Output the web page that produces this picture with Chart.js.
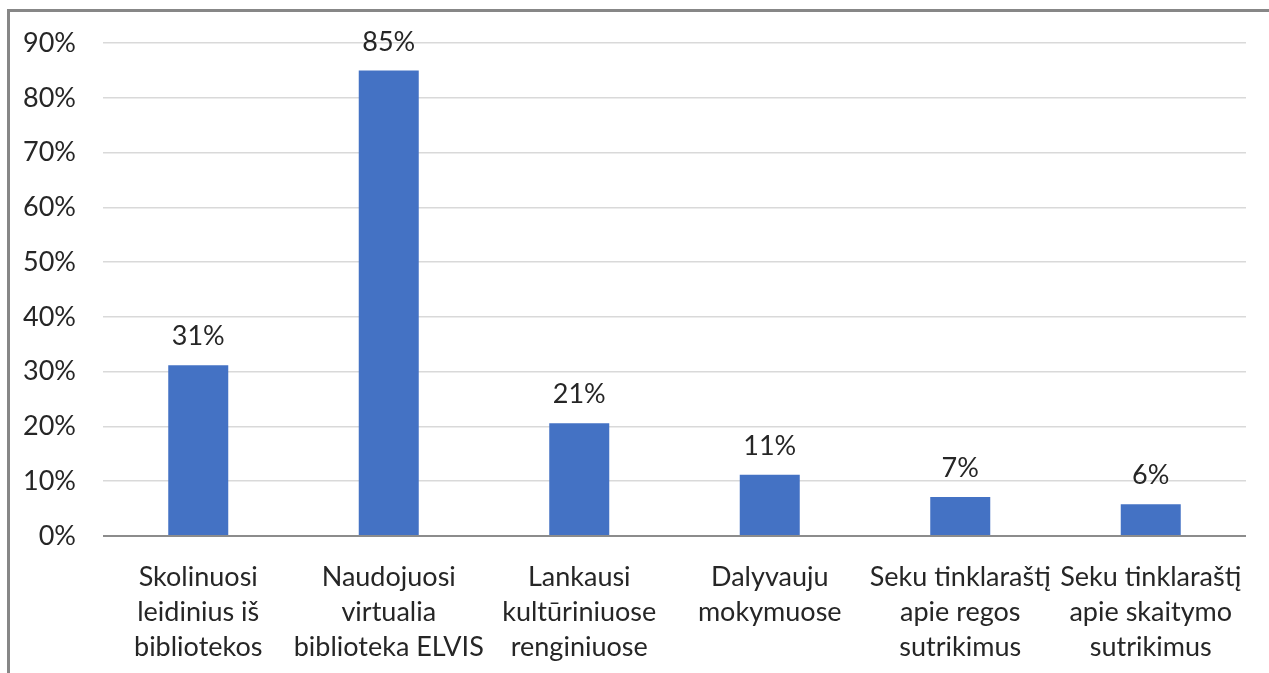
<!DOCTYPE html>
<html>
<head>
<meta charset="utf-8">
<script src="https://cdn.jsdelivr.net/npm/chart.js@4"></script>
<style>
  body { margin: 0; background: #fff; overflow: hidden; }
  #frame {
    position: absolute; left: 7px; top: 9px; width: 1400px; height: 800px;
    border-left: 3px solid #878787; border-top: 3px solid #878787;
  }
  #chart { position: absolute; left: 0; top: 0; }
</style>
</head>
<body>
<div id="frame"></div>
<canvas id="chart" width="1269" height="673"></canvas>
<script>
const categories = [
  ["Skolinuosi", "leidinius iš", "bibliotekos"],
  ["Naudojuosi", "virtualia", "biblioteka ELVIS"],
  ["Lankausi", "kultūriniuose", "renginiuose"],
  ["Dalyvauju", "mokymuose"],
  ["Seku tinklaraštį", "apie regos", "sutrikimus"],
  ["Seku tinklaraštį", "apie skaitymo", "sutrikimus"]
];
const values = [31.2, 85, 20.6, 11.2, 7.1, 5.8];
const yTicks = [0, 10, 20, 30, 40, 50, 60, 70, 80, 90];

const textColor = "#262626";
const fontFamily = "Lato, 'Liberation Sans', sans-serif";

const barLabels = {
  id: "barLabels",
  afterDatasetsDraw(chart) {
    const c = chart.ctx;
    const meta = chart.getDatasetMeta(0);
    c.save();
    c.font = "27px " + fontFamily;
    c.fillStyle = textColor;
    c.textAlign = "center";
    c.textBaseline = "alphabetic";
    meta.data.forEach((bar, i) => {
      c.fillText(Math.round(values[i]) + "%", bar.x, bar.y - 20);
    });
    c.restore();
  }
};

const ctx = document.getElementById("chart");
const chart = new Chart(ctx, {
  type: "bar",
  data: {
    labels: categories,
    datasets: [
      {
        data: values,
        backgroundColor: "#4472C4",
        categoryPercentage: 1,
        barPercentage: 0.315
      }
    ]
  },
  options: {
    responsive: false,
    animation: false,
    layout: {
      padding: { top: 41, right: 23, left: 0, bottom: 0 }
    },
    scales: {
      y: {
        min: 0,
        max: 90,
        afterFit: (scale) => { scale.width = 103; },
        afterBuildTicks: (scale) => {
          scale.ticks = yTicks.map((v) => ({ value: v }));
        },
        border: { display: false },
        grid: {
          drawTicks: false,
          color: (c) => (c.tick && c.tick.value === 0 ? "#8c8c8c" : "#d9d9d9"),
          lineWidth: (c) => (c.tick && c.tick.value === 0 ? 2 : 1.5)
        },
        ticks: {
          padding: 27,
          color: textColor,
          font: { family: fontFamily, size: 27 },
          callback: (v) => v + "%"
        }
      },
      x: {
        afterFit: (scale) => { scale.height = 137; },
        border: { display: false },
        grid: { display: false, drawTicks: false },
        ticks: {
          padding: 24,
          maxRotation: 0,
          autoSkip: false,
          color: textColor,
          font: { family: fontFamily, size: 27, lineHeight: 1.3 }
        }
      }
    },
    plugins: {
      legend: { display: false },
      tooltip: { enabled: false }
    }
  },
  plugins: [barLabels]
});
</script>
</body>
</html>
